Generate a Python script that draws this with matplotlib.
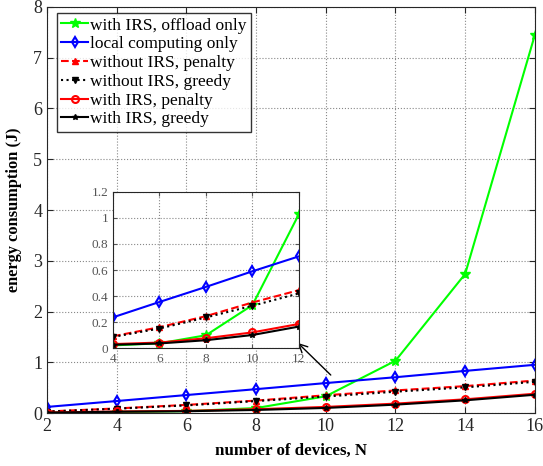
import matplotlib.pyplot as plt

plt.rcParams['font.family'] = ['Liberation Serif', 'DejaVu Serif']

# data
N = [2, 4, 6, 8, 10, 12, 14, 16]
offload_irs = [0.005, 0.02, 0.036, 0.098, 0.33, 1.03, 2.74, 7.45]
local_only = [0.12, 0.236, 0.354, 0.47, 0.59, 0.705, 0.83, 0.95]
noirs_penalty = [0.03, 0.09, 0.16, 0.245, 0.35, 0.445, 0.53, 0.64]
noirs_greedy = [0.028, 0.085, 0.15, 0.235, 0.325, 0.42, 0.505, 0.615]
irs_penalty = [0.01, 0.03, 0.042, 0.075, 0.12, 0.185, 0.27, 0.38]
irs_greedy = [0.008, 0.025, 0.035, 0.06, 0.10, 0.165, 0.25, 0.36]

labels = ["with IRS, offload only", "local computing only",
          "without IRS, penalty", "without IRS, greedy",
          "with IRS, penalty", "with IRS, greedy"]

series = [
    (offload_irs, dict(color='#00ff00', ls='-', marker='*', ms=7, mfc='#00ff00')),
    (local_only, dict(color='blue', ls='-', marker='d', ms=5, mfc='none', mew=1.5)),
    (noirs_penalty, dict(color='red', ls='--', marker='^', ms=5, mfc='red')),
    (noirs_greedy, dict(color='black', ls=':', marker='v', ms=5, mfc='black')),
    (irs_penalty, dict(color='red', ls='-', marker='o', ms=5, mfc='none', mew=1.5)),
    (irs_greedy, dict(color='black', ls='-', marker='*', ms=4, mfc='black')),
]

fig = plt.figure(figsize=(5.43, 4.66), dpi=100)
ax = fig.add_axes([0.0866, 0.1137, 0.8984, 0.8713])

for (y, st), lab in zip(series, labels):
    ax.plot(N, y, lw=1.5, label=lab, **st)

ax.set_xlim(2, 16)
ax.set_ylim(0, 8)
ax.set_xticks(N)
ax.set_yticks(range(0, 9))
ax.grid(True, ls=':', color='#888888', lw=0.8)
ax.tick_params(direction='in', top=True, right=True, labelsize=13,
               colors='#262626', length=4)
for sp in ax.spines.values():
    sp.set_color('#262626')
ax.set_xlabel('number of devices, N', fontsize=12.2, fontweight='bold', labelpad=6)
ax.set_ylabel('energy consumption (J)', fontsize=11.8, fontweight='bold')
ax.yaxis.set_label_coords(-0.051, 0.5)

leg = ax.legend(loc='upper left', bbox_to_anchor=(0.0205, 0.985),
                borderaxespad=0, fontsize=12.5, frameon=True, fancybox=False,
                handlelength=1.55, handletextpad=0.1, borderpad=0.25,
                labelspacing=0.15)
leg.get_frame().set_edgecolor('black')
leg.get_frame().set_linewidth(1.0)

# zoomed inset
axin = fig.add_axes([0.208, 0.2532, 0.3425, 0.3348])
for (y, st), lab in zip(series, labels):
    axin.plot(N[1:6], y[1:6], lw=1.5, **st)
axin.set_xlim(4, 12)
axin.set_ylim(0, 1.2)
axin.set_xticks([4, 6, 8, 10, 12])
axin.set_yticks([0, 0.2, 0.4, 0.6, 0.8, 1.0, 1.2])
axin.set_yticklabels(['0', '0.2', '0.4', '0.6', '0.8', '1', '1.2'])
axin.grid(True, ls=':', color='#888888', lw=0.8)
axin.tick_params(direction='in', top=True, right=True, labelsize=9.5,
                 colors='#555555', length=3)
for sp in axin.spines.values():
    sp.set_color('#262626')

# arrow pointing from curves to inset
ax.annotate('', xy=(9.14, 1.42), xytext=(10.2, 0.71),
            arrowprops=dict(arrowstyle='->,head_length=0.6,head_width=0.3',
                            color='black', lw=1.0))

fig.savefig('out.png', dpi=100)
